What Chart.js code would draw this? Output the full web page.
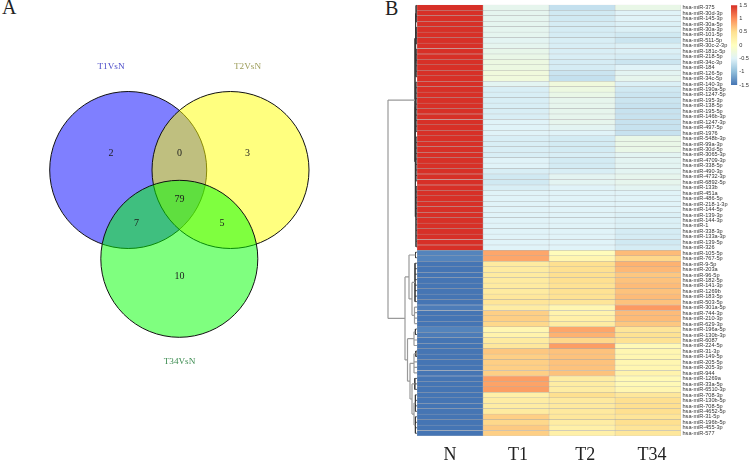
<!DOCTYPE html>
<html><head><meta charset="utf-8">
<style>
html,body{margin:0;padding:0;background:#fff;width:750px;height:463px;overflow:hidden}
canvas{position:absolute;display:block;filter:blur(.3px)}
.p{position:absolute;font:20px "Liberation Serif",serif;color:#222;line-height:20px}
</style>
<script src="https://cdn.jsdelivr.net/npm/chart.js@4/dist/chart.umd.min.js"></script>
</head><body>
<div class="p" style="left:2px;top:-3px">A</div>
<div class="p" style="left:385px;top:-2px">B</div>
<canvas id="venn" width="370" height="400" style="left:0;top:0"></canvas>
<canvas id="dend" width="32" height="463" style="left:385px;top:0"></canvas>
<canvas id="heat" width="322" height="463" style="left:410px;top:0"></canvas>
<canvas id="bar" width="28" height="92" style="left:722px;top:0"></canvas>
<script>
// ---------- Venn ----------
const vennSets = ['T1VsN', 'T2VsN', 'T34VsN'];
const vennCounts = ['2', '0', '3', '79', '7', '5', '10'];

// ---------- Heatmap ----------
const columns = ['N', 'T1', 'T2', 'T34'];
const rows = ['375','30d-3p','145-3p','30a-5p','30a-3p','101-5p','511-5p','30c-2-3p','181c-5p','218-5p','34c-3p','184','126-5p','34c-5p','140-3p','190a-5p','1247-5p','195-3p','138-5p','195-5p','146b-3p','1247-3p','497-5p','1976','548b-3p','99a-3p','30d-5p','3065-3p','4709-3p','338-5p','490-3p','4732-3p','6892-5p','133b','451a','486-5p','218-1-3p','144-5p','139-3p','144-3p','1','338-3p','133a-3p','139-5p','326',
'105-5p','767-5p','9-5p','203a','96-5p','182-5p','141-3p','1269b','183-5p','503-5p','301a-5p','744-3p','210-3p','629-3p','196a-5p','130b-3p','6087','224-5p','31-3p','149-5p','205-5p','205-3p','944','1269a','33a-5p','6510-3p','708-3p','130b-5p','708-5p','4652-5p','31-5p','196b-5p','455-3p','577'].map(s => 'hsa-miR-' + s);
const valuesN = [1.5,1.5,1.5,1.5,1.5,1.5,1.5,1.5,1.5,1.5,1.5,1.5,1.5,1.5,1.5,1.5,1.5,1.5,1.5,1.5,1.5,1.5,1.5,1.5,1.5,1.5,1.5,1.5,1.5,1.5,1.5,1.5,1.5,1.5,1.5,1.5,1.5,1.5,1.5,1.5,1.5,1.5,1.5,1.5,1.5,
-1.4,-1.4,-1.5,-1.5,-1.5,-1.5,-1.5,-1.5,-1.5,-1.5,-1.45,-1.5,-1.5,-1.5,-1.4,-1.45,-1.5,-1.5,-1.5,-1.5,-1.5,-1.5,-1.5,-1.5,-1.5,-1.5,-1.5,-1.5,-1.5,-1.5,-1.5,-1.5,-1.5,-1.5];
const valuesT1 = [-.4,-.42,-.42,-.42,-.42,-.42,-.45,-.42,-.38,-.35,-.3,-.3,-.25,-.25,-.45,-.55,-.55,-.55,-.55,-.55,-.55,-.5,-.5,-.5,-.55,-.55,-.55,-.55,-.5,-.5,-.55,-.6,-.6,-.55,-.5,-.5,-.5,-.5,-.5,-.5,-.5,-.5,-.5,-.5,-.5,
.85,.85,.33,.33,.33,.33,.33,.33,.38,.42,.3,.6,.6,.55,.15,.2,.33,.38,.65,.6,.6,.6,.6,.9,.87,.9,.25,.3,.3,.33,.6,.55,.63,.6];
const valuesT2 = [-.68,-.6,-.6,-.57,-.57,-.57,-.55,-.55,-.55,-.55,-.57,-.57,-.64,-.68,-.25,-.3,-.35,-.4,-.4,-.4,-.4,-.4,-.45,-.5,-.58,-.58,-.58,-.55,-.58,-.58,-.55,-.45,-.45,-.5,-.5,-.5,-.5,-.5,-.5,-.5,-.5,-.5,-.5,-.5,-.5,
.05,.15,.5,.5,.5,.5,.47,.47,.47,.42,.15,.2,.25,.3,.85,.78,.55,.9,.68,.68,.68,.68,.68,.3,.3,.3,.5,.35,.35,.35,.38,.3,.25,.25];
const valuesT34 = [-.35,-.5,-.5,-.53,-.53,-.6,-.63,-.53,-.53,-.57,-.63,-.5,-.45,-.4,-.53,-.6,-.63,-.63,-.66,-.66,-.66,-.66,-.66,-.66,-.35,-.35,-.35,-.45,-.45,-.45,-.45,-.4,-.4,-.45,-.5,-.5,-.5,-.5,-.53,-.53,-.53,-.57,-.57,-.6,-.57,
.72,.55,.78,.74,.65,.68,.72,.68,.72,.68,.92,.72,.72,.65,.42,.47,.47,.1,.15,.15,.15,.15,.2,.1,.1,.15,.38,.5,.5,.5,.42,.5,.42,.38];
const heatValues = [valuesN, valuesT1, valuesT2, valuesT34];
const palette = ['#4575B4','#91BFDB','#E0F3F8','#FFFFBF','#FEE090','#FC8D59','#D73027'];
const colorTicks = [1.5, 1, 0.5, 0, -0.5, -1, -1.5];
// dendrogram brackets: first row, end row, merge height
const merges = [[0,79,29],[0,45,2],[0,14,1.4],[0,4,.9],[4,8,.9],[8,14,1],[14,45,1.6],[14,24,1.1],[24,33,1.1],[33,45,1],
[45,79,12],[45,59,8],[45,47,1.5],[47,59,5],[47,55,2],[55,59,2.5],
[59,79,9.5],[59,63,3],[59,61,1.6],[63,79,7],[63,68,3],[63,65,1.2],[68,79,5],[68,71,2.2],[71,79,3],[71,75,1.6],[75,79,1.6]];

// ---------- Layout (page pixels) ----------
const vennLayout = {
  circles: [{x:128.2,y:170,r:78.5},{x:230.5,y:170,r:78.5},{x:179.3,y:258.8,r:78.5}],
  fills: ['rgba(0,0,255,.5)','rgba(255,255,0,.5)','rgba(0,255,0,.5)'],
  setAt: [[111,67],[247.5,67],[179.5,362]],
  setColors: ['#4848c8','#9c9c58','#3c8c50'],
  countAt: [[111,153],[179.5,153],[247.5,153],[179.5,199],[136.5,223],[222,223],[179.5,276]]
};
const columnTickAt = [0.5, 1.53, 2.55, 3.56];
const plotTop = 2.7, plotBottom = 436, plotLeft = 417, plotRight = 681;

const common = {responsive:false, animation:false, events:[], plugins:{legend:{display:false},tooltip:{enabled:false}}};

// ---------- Venn chart ----------
const vennText = {
  id:'vennText',
  afterDatasetsDraw(c){
    const {ctx, scales:{x,y}} = c;
    ctx.save(); ctx.textAlign='center'; ctx.textBaseline='middle';
    ctx.font='9.2px "Liberation Serif",serif';
    vennSets.forEach((t,i)=>{ctx.fillStyle=vennLayout.setColors[i];
      ctx.fillText(t,x.getPixelForValue(vennLayout.setAt[i][0]),y.getPixelForValue(vennLayout.setAt[i][1]));});
    ctx.font='10px "Liberation Serif",serif'; ctx.fillStyle='#1c1c1c';
    vennCounts.forEach((t,i)=>ctx.fillText(t,x.getPixelForValue(vennLayout.countAt[i][0]),y.getPixelForValue(vennLayout.countAt[i][1])));
    ctx.restore();
  }
};
new Chart(document.getElementById('venn'),{
  type:'bubble',
  data:{datasets:vennLayout.circles.map((c,i)=>({label:vennSets[i],data:[c],order:3-i,backgroundColor:vennLayout.fills[i],borderColor:'#111',borderWidth:1,clip:false}))},
  options:{...common,layout:{autoPadding:false,padding:0},scales:{
    x:{type:'linear',min:0,max:370,display:false},
    y:{type:'linear',min:0,max:400,reverse:true,display:false}}},
  plugins:[vennText]
});

// ---------- Dendrogram ----------
function bracketSegments(){
  const nodes = merges.map(m=>({from:m[0],to:m[1],h:m[2]}));
  function inner(n){return nodes.filter(o=>o!==n&&o.from>=n.from&&o.to<=n.to);}
  function anchor(n){
    const subs = inner(n).filter(o=>!nodes.some(p=>p!==n&&p!==o&&p.from<=o.from&&p.to>=o.to&&p.from>=n.from&&p.to<=n.to));
    const parts=[];
    for(let r=n.from;r<n.to;){
      const s=subs.find(o=>o.from===r);
      if(s){parts.push({y:anchor(s).y,h:s.h});r=s.to;}
      else{parts.push({y:r+.5,h:0});r++;}
    }
    n.parts=parts;
    return {y:(parts[0].y+parts[parts.length-1].y)/2};
  }
  nodes.forEach(anchor);
  const gap={x:NaN,y:NaN};
  const deep=[],shallow=[];
  nodes.forEach(n=>{
    const t=n.h<=2.3?deep:shallow;
    t.push({x:n.h,y:n.parts[0].y},{x:n.h,y:n.parts[n.parts.length-1].y},gap);
    n.parts.forEach(p=>{t.push({x:n.h,y:p.y},{x:p.h,y:p.y},gap);});
  });
  return {deep,shallow};
}
const seg = bracketSegments();
new Chart(document.getElementById('dend'),{
  type:'scatter',
  data:{datasets:[
    {data:seg.shallow,showLine:true,spanGaps:false,pointRadius:0,borderColor:'#9a9a9a',borderWidth:1.2,clip:false},
    {data:seg.deep,showLine:true,spanGaps:false,pointRadius:0,borderColor:'#333',borderWidth:.8,clip:false}
  ]},
  options:{...common,layout:{autoPadding:false,padding:{top:plotTop,bottom:463-plotBottom}},scales:{
    x:{type:'linear',min:0,max:32,reverse:true,display:false},
    y:{type:'linear',min:0,max:rows.length,reverse:true,display:false}}}
});

// ---------- Heatmap ----------
function hex(h){return [1,3,5].map(i=>parseInt(h.substr(i,2),16));}
function colorOf(v){
  const t=Math.max(0,Math.min(1,(v+1.5)/3))*(palette.length-1);
  const i=Math.min(palette.length-2,Math.floor(t)),f=t-i;
  const a=hex(palette[i]),b=hex(palette[i+1]);
  return 'rgb('+a.map((c,k)=>Math.round(c+(b[k]-c)*f)).join(',')+')';
}
new Chart(document.getElementById('heat'),{
  type:'bar',
  data:{labels:rows,datasets:columns.map((name,i)=>({
    label:name,
    data:heatValues[i].map(()=>1),
    backgroundColor:heatValues[i].map(colorOf),
    borderColor:'rgba(150,150,150,.62)',borderWidth:.5,borderSkipped:false,
    categoryPercentage:1,barPercentage:1
  }))},
  options:{...common,indexAxis:'y',
    layout:{autoPadding:false,padding:{left:plotLeft-410,top:plotTop}},
    scales:{
      x:{type:'linear',stacked:true,min:0,max:4,
        afterBuildTicks(s){s.ticks=columnTickAt.map(v=>({value:v}));},
        afterFit(s){s.height=463-plotBottom;},
        grid:{display:false,drawTicks:false},border:{display:false},
        ticks:{autoSkip:false,maxRotation:0,padding:8,color:'#222',font:{family:'"Liberation Serif",serif',size:18},
          callback:(v,i)=>columns[i]}},
      y:{type:'category',stacked:true,position:'right',
        afterFit(s){s.width=732-plotRight;},
        grid:{display:false,drawTicks:false},border:{display:false},
        ticks:{autoSkip:false,maxRotation:0,padding:1.5,color:'#333',font:{family:'"Liberation Sans",sans-serif',size:5.6}}}
    }}
});

// ---------- Colour key ----------
new Chart(document.getElementById('bar'),{
  type:'bar',
  data:{labels:[''],datasets:[{data:[[colorTicks[colorTicks.length-1],colorTicks[0]]],
    categoryPercentage:1,barPercentage:1,
    backgroundColor(ctx){
      const a=ctx.chart.chartArea; if(!a) return palette[3];
      const g=ctx.chart.ctx.createLinearGradient(0,a.bottom,0,a.top);
      palette.forEach((p,i)=>g.addColorStop(i/(palette.length-1),p));
      return g;
    }}]},
  options:{...common,layout:{autoPadding:false,padding:{left:9,top:2.4,bottom:7}},
    scales:{
      x:{display:false},
      y:{type:'linear',min:-1.5,max:1.5,position:'right',
        afterBuildTicks(s){s.ticks=colorTicks.map(v=>({value:v}));},
        afterFit(s){s.width=28-15.3;},
        grid:{display:false,drawTicks:false},border:{display:false},
        ticks:{padding:2,color:'#333',font:{family:'"Liberation Sans",sans-serif',size:5.6},callback:v=>String(v)}}
    }}
});
</script>
</body></html>
